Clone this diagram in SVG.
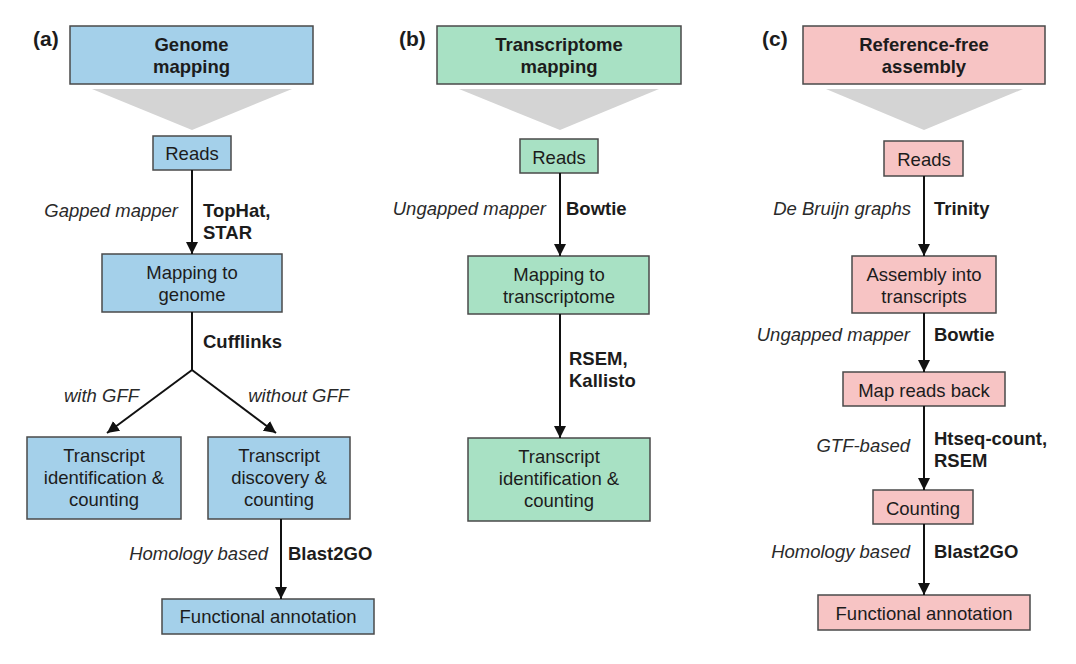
<svg xmlns="http://www.w3.org/2000/svg" width="1076" height="664" viewBox="0 0 1076 664">
<defs>
<marker id="ah" markerUnits="userSpaceOnUse" markerWidth="12" markerHeight="12" refX="12" refY="6" orient="auto">
<path d="M0,0 L12,6 L0,12 z" fill="#111"/>
</marker>
<style>
text{font-family:"Liberation Sans",Arial,sans-serif;font-size:18.5px;fill:#1c1c1c}
.c{text-anchor:middle}
.b{font-weight:bold}
.i{font-style:italic;text-anchor:end;fill:#2a2a2a}
.p{font-weight:bold;font-size:21px}
.box{stroke:#4a4a4a;stroke-width:1.5}
.blue{fill:#a4d0ea}
.green{fill:#a8e1c4}
.pink{fill:#f7c4c4}
.tri{fill:#d4d4d4}
.ln{stroke:#111;stroke-width:2;fill:none}
.ar{marker-end:url(#ah)}
</style>
</defs>
<rect width="1076" height="664" fill="#ffffff"/>

<!-- panel labels -->
<text class="p" x="33" y="46">(a)</text>
<text class="p" x="399" y="46">(b)</text>
<text class="p" x="762" y="46">(c)</text>

<!-- triangles -->
<polygon class="tri" points="92,89 292,89 192,130"/>
<polygon class="tri" points="459,89 659,89 560,130"/>
<polygon class="tri" points="826,89 1023,89 924,130"/>

<!-- Panel A -->
<g id="a-title">
<rect class="box blue" x="70" y="26" width="243" height="58"/>
<text class="c b" x="191.5" y="51">Genome</text>
<text class="c b" x="191.5" y="73">mapping</text>
</g>
<g id="a-reads">
<rect class="box blue" x="153" y="136" width="78" height="34"/>
<text class="c" x="192" y="160">Reads</text>
</g>
<g id="a-map">
<rect class="box blue" x="102" y="254" width="180" height="58"/>
<text class="c" x="192" y="279">Mapping to</text>
<text class="c" x="192" y="301">genome</text>
</g>
<g id="a-ident">
<rect class="box blue" x="27" y="437" width="154" height="82"/>
<text class="c" x="104" y="462">Transcript</text>
<text class="c" x="104" y="484">identification &amp;</text>
<text class="c" x="104" y="506">counting</text>
</g>
<g id="a-disc">
<rect class="box blue" x="208" y="437" width="142" height="82"/>
<text class="c" x="279" y="462">Transcript</text>
<text class="c" x="279" y="484">discovery &amp;</text>
<text class="c" x="279" y="506">counting</text>
</g>
<g id="a-func">
<rect class="box blue" x="162" y="599" width="212" height="35"/>
<text class="c" x="268" y="623">Functional annotation</text>
</g>

<!-- Panel B -->
<g id="b-title">
<rect class="box green" x="437" y="26" width="244" height="58"/>
<text class="c b" x="559" y="51">Transcriptome</text>
<text class="c b" x="559" y="73">mapping</text>
</g>
<g id="b-reads">
<rect class="box green" x="520" y="139" width="78" height="34"/>
<text class="c" x="559" y="164">Reads</text>
</g>
<g id="b-map">
<rect class="box green" x="468" y="256" width="181" height="58"/>
<text class="c" x="559" y="281">Mapping to</text>
<text class="c" x="559" y="303">transcriptome</text>
</g>
<g id="b-ident">
<rect class="box green" x="468" y="438" width="182" height="83"/>
<text class="c" x="559" y="463">Transcript</text>
<text class="c" x="559" y="485">identification &amp;</text>
<text class="c" x="559" y="507">counting</text>
</g>

<!-- Panel C -->
<g id="c-title">
<rect class="box pink" x="803" y="26" width="242" height="58"/>
<text class="c b" x="924" y="51">Reference-free</text>
<text class="c b" x="924" y="73">assembly</text>
</g>
<g id="c-reads">
<rect class="box pink" x="884" y="141" width="79" height="35"/>
<text class="c" x="924" y="166">Reads</text>
</g>
<g id="c-asm">
<rect class="box pink" x="852" y="256" width="144" height="57"/>
<text class="c" x="924" y="281">Assembly into</text>
<text class="c" x="924" y="303">transcripts</text>
</g>
<g id="c-mapback">
<rect class="box pink" x="843" y="372" width="162" height="34"/>
<text class="c" x="924" y="397">Map reads back</text>
</g>
<g id="c-count">
<rect class="box pink" x="873" y="490" width="100" height="34"/>
<text class="c" x="923" y="515">Counting</text>
</g>
<g id="c-func">
<rect class="box pink" x="818" y="595" width="212" height="35"/>
<text class="c" x="924" y="620">Functional annotation</text>
</g>

<!-- connectors -->
<g id="connectors">
<line class="ln ar" x1="192" y1="170" x2="192" y2="254"/>
<line class="ln" x1="192" y1="312" x2="192" y2="371"/>
<line class="ln ar" x1="192" y1="370" x2="107" y2="433"/>
<line class="ln ar" x1="192" y1="370" x2="276" y2="433"/>
<line class="ln ar" x1="281" y1="519" x2="281" y2="599"/>

<line class="ln ar" x1="560" y1="173" x2="560" y2="256"/>
<line class="ln ar" x1="560" y1="314" x2="560" y2="438"/>

<line class="ln ar" x1="924" y1="176" x2="924" y2="256"/>
<line class="ln ar" x1="924" y1="313" x2="924" y2="372"/>
<line class="ln ar" x1="924" y1="406" x2="924" y2="490"/>
<line class="ln ar" x1="924" y1="524" x2="924" y2="595"/>
</g>

<!-- edge labels -->
<g id="labels">
<text class="i" x="178" y="217">Gapped mapper</text>
<text class="b" x="203" y="217">TopHat,</text>
<text class="b" x="203" y="239">STAR</text>
<text class="b" x="203" y="348">Cufflinks</text>
<text class="i" x="139" y="402">with GFF</text>
<text class="i" x="349" y="402">without GFF</text>
<text class="i" x="268" y="560">Homology based</text>
<text class="b" x="288" y="560">Blast2GO</text>

<text class="i" x="546" y="215">Ungapped mapper</text>
<text class="b" x="566" y="215">Bowtie</text>
<text class="b" x="569" y="365">RSEM,</text>
<text class="b" x="569" y="387">Kallisto</text>

<text class="i" x="911" y="215">De Bruijn graphs</text>
<text class="b" x="934" y="215">Trinity</text>
<text class="i" x="910" y="341">Ungapped mapper</text>
<text class="b" x="934" y="341">Bowtie</text>
<text class="i" x="910" y="452">GTF-based</text>
<text class="b" x="934" y="445">Htseq-count,</text>
<text class="b" x="934" y="467">RSEM</text>
<text class="i" x="910" y="558">Homology based</text>
<text class="b" x="934" y="558">Blast2GO</text>
</g>
</svg>
